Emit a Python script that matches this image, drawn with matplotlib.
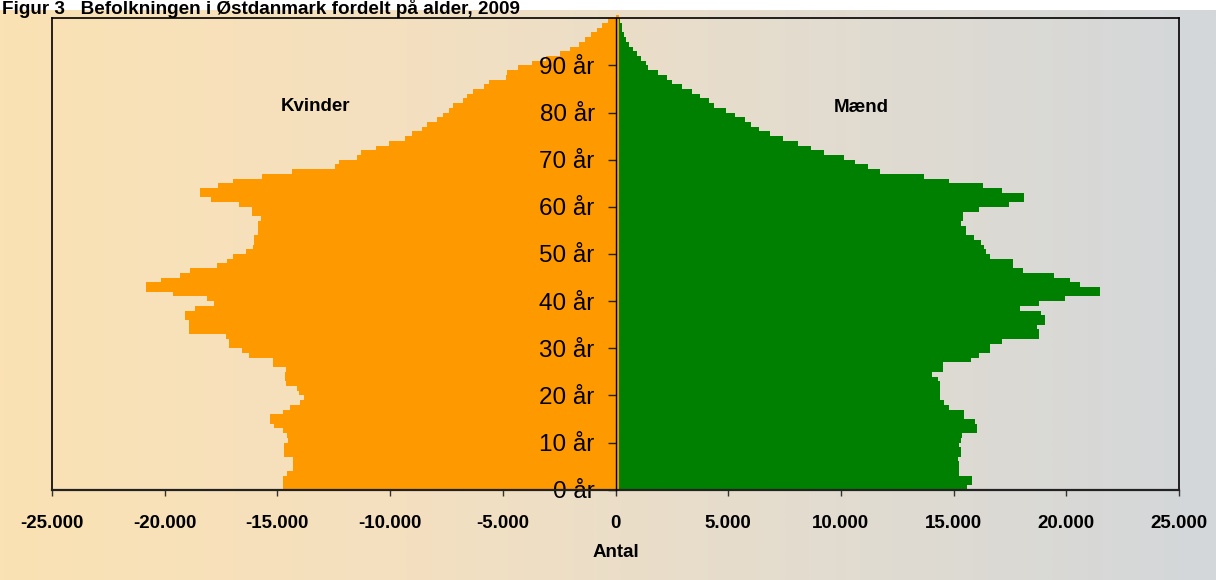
import numpy as np
import matplotlib
matplotlib.use("Agg")
import matplotlib.pyplot as plt
from matplotlib.colors import LinearSegmentedColormap
from matplotlib.lines import Line2D

plt.rcParams['font.family'] = ['Liberation Sans', 'DejaVu Sans']

title = "Figur 3   Befolkningen i Østdanmark fordelt på alder, 2009"
ages = list(range(100))
kvinder = [14750, 14750, 14750, 14580, 14310, 14310, 14310, 14720, 14720, 14720,
           14520, 14570, 14750, 15130, 15310, 15310, 14740, 14460, 14000, 13840,
           14040, 14140, 14600, 14650, 14650, 14630, 15180, 15180, 16260, 16590,
           17140, 17140, 17280, 18910, 18910, 18910, 19080, 19080, 18640, 17820,
           18130, 19640, 20850, 20850, 20170, 19320, 18890, 17690, 17220, 16980,
           16380, 16080, 16040, 16040, 15840, 15840, 15840, 15740, 16110, 16110,
           16720, 17940, 18420, 18420, 17620, 16990, 15700, 14350, 12440, 12270,
           11460, 11290, 10640, 10030, 9350, 9010, 8600, 8350, 7940, 7640,
           7380, 7210, 6750, 6600, 6330, 5850, 5600, 4870, 4800, 4330,
           3700, 3100, 2460, 2030, 1640, 1350, 1100, 840, 590, 340]
maend = [15580, 15810, 15810, 15230, 15230, 15230, 15210, 15310, 15310, 15260,
         15330, 15380, 16040, 16040, 15940, 15450, 15450, 14790, 14570, 14400,
         14400, 14400, 14400, 14310, 14040, 14530, 14530, 15760, 16110, 16620,
         16620, 17160, 18780, 18780, 18710, 19070, 19070, 18880, 17960, 18780,
         19930, 21510, 21510, 20590, 20150, 19460, 18100, 17640, 17640, 16620,
         16450, 16370, 16200, 15910, 15550, 15550, 15310, 15430, 15430, 16110,
         17470, 18130, 18130, 17130, 16300, 14800, 13700, 11730, 11220, 10610,
         10120, 9270, 8670, 8100, 7450, 6870, 6350, 5990, 5760, 5280,
         4900, 4360, 4140, 3730, 3410, 2950, 2490, 2290, 1900, 1440,
         1340, 1120, 950, 760, 610, 470, 390, 300, 300, 220]
ytick_vals = [0, 10, 20, 30, 40, 50, 60, 70, 80, 90]
ytick_labels = [f"{v} år" for v in ytick_vals]
xtick_vals = [-25000, -20000, -15000, -10000, -5000, 0, 5000, 10000, 15000, 20000, 25000]
xtick_labels = ["-25.000", "-20.000", "-15.000", "-10.000", "-5.000", "0",
                "5.000", "10.000", "15.000", "20.000", "25.000"]

W, H = 1216, 580
fig = plt.figure(figsize=(W / 100, H / 100), dpi=100)

# background gradient
bg = fig.add_axes([0, 0, 1, 1 - 10 / H], zorder=-10)
cmap = LinearSegmentedColormap.from_list("bg", ["#FBE2B4", "#F4E0C0", "#E3DCCF", "#D3D7DA"])
grad = np.linspace(0, 1, 512).reshape(1, -1)
bg.imshow(grad, aspect='auto', cmap=cmap, extent=[0, 1, 0, 1])
bg.axis('off')

fig.text(2 / W, 1 - 13.5 / H, title, fontsize=13.6, fontweight='bold', ha='left', va='baseline')

ax = fig.add_axes([52 / W, (H - 489.7) / H, (1179 - 52) / W, (489.7 - 18.3) / H])
ax.patch.set_alpha(0)

ax.barh(ages, [-v for v in kvinder], height=1.0, align='edge', color='#FF9900', linewidth=0, zorder=1)
ax.barh(ages, maend, height=1.0, align='edge', color='#008000', linewidth=0, zorder=1)
# thin orange strip next to the axis
ax.barh([0], [150], height=100.8, align='edge', color='#FF9900', linewidth=0, zorder=2, clip_on=False)

ax.set_xlim(-25000, 25000)
ax.set_ylim(0, 100)

ax.spines['left'].set_position(('data', 0))
ax.spines['left'].set_linewidth(1.0)
ax.spines['left'].set_zorder(3)
for s in ['top', 'right']:
    ax.spines[s].set_linewidth(1.2)
    ax.spines[s].set_color('black')
ax.spines['bottom'].set_linewidth(1.6)
ax.spines['bottom'].set_color('#222222')
ax.add_line(Line2D([0, 0], [0, 1], transform=ax.transAxes, color='black', lw=1.2, clip_on=False))

ax.set_yticks(ytick_vals)
ax.set_yticklabels(ytick_labels, fontsize=17.5)
ax.tick_params(axis='y', direction='out', length=6, width=1, pad=9, color='#222222')

ax.set_xticks(xtick_vals)
ax.set_xticklabels(xtick_labels, fontsize=13.5, fontweight='bold')
ax.tick_params(axis='x', direction='out', length=4, width=1, pad=14, color='#333333')
ax.set_xlabel("Antal", fontsize=13.5, fontweight='bold', labelpad=9)

ax.text(-13300, 81.3, "Kvinder", fontsize=13.5, fontweight='bold', ha='center', va='center')
ax.text(10900, 81.1, "Mænd", fontsize=13.5, fontweight='bold', ha='center', va='center')

fig.savefig("out.png", dpi=100)
